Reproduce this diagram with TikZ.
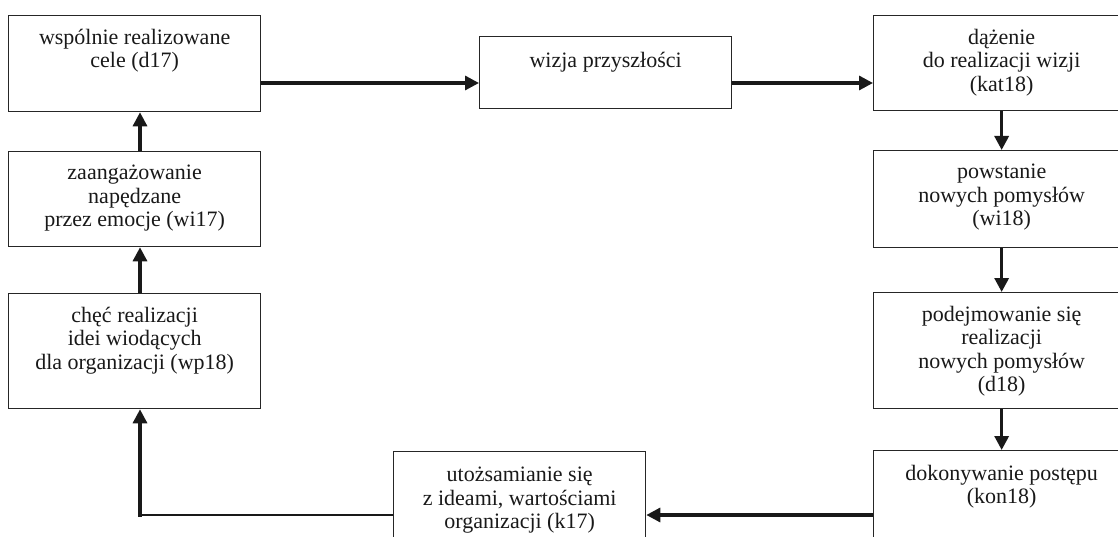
\documentclass[tikz,border=0pt]{standalone}
\usepackage{fontspec}
\setmainfont{Liberation Serif}
\usetikzlibrary{arrows.meta}
\begin{document}
\begin{tikzpicture}[x=1pt,y=-1pt,
  box/.style={draw=black!85, line width=1.3pt, anchor=north west, inner sep=0pt},
  lbox/.style={box, minimum width=252pt},
  rbox/.style={box, minimum width=256pt},
  txt/.style={align=center, anchor=north, inner sep=0pt, text=black!90,
    font=\fontsize{22}{23.5}\selectfont, execute at begin node=\strut},
  link/.style={line width=3.2pt, draw=black!90, line join=miter},
  flow/.style={link, -{Triangle[length=14pt,width=14pt]}},
]
\clip (0,0) rectangle (1118,537);
\fill[white] (0,0) rectangle (1118,537);

% boxes
\node[lbox, minimum height=96pt]  (d17)   at (8,15)    {};
\node[box, minimum width=252pt, minimum height=72pt] (wizja) at (479,36) {};
\node[rbox, minimum height=95pt]  (kat18) at (873,15)  {};
\node[rbox, minimum height=97pt]  (wi18)  at (873,150) {};
\node[rbox, minimum height=116pt] (d18)   at (873,292) {};
\node[rbox, minimum height=110pt] (kon18) at (873,450) {};
\node[lbox, minimum height=110pt] (k17)   at (393,451) {};
\node[lbox, minimum height=115pt] (wp18)  at (8,293)   {};
\node[lbox, minimum height=95pt]  (wi17)  at (8,151)   {};

% texts, set from the top of each box
\node[txt] (d17t)   at ([yshift=-14pt]d17.north)   {wspólnie realizowane\\cele (d17)};
\node[txt] (wizjat) at ([yshift=-15pt]wizja.north) {wizja przyszłości};
\node[txt] (kat18t) at ([yshift=-14pt]kat18.north) {dążenie\\do realizacji wizji\\(kat18)};
\node[txt] (wi18t)  at ([yshift=-14pt]wi18.north)  {powstanie\\nowych pomysłów\\(wi18)};
\node[txt] (d18t)   at ([yshift=-14pt]d18.north)   {podejmowanie się\\realizacji\\nowych pomysłów\\(d18)};
\node[txt] (kon18t) at ([yshift=-15pt]kon18.north) {dokonywanie postępu\\(kon18)};
\node[txt] (k17t)   at ([yshift=-16pt]k17.north)   {utożsamianie się\\z ideami, wartościami\\organizacji (k17)};
\node[txt] (wp18t)  at ([yshift=-14pt]wp18.north)  {chęć realizacji\\idei wiodących\\dla organizacji (wp18)};
\node[txt] (wi17t)  at ([yshift=-14pt]wi17.north)  {zaangażowanie\\napędzane\\przez emocje (wi17)};

% routing guides
\coordinate (rowT) at (0,83);
\coordinate (rowB) at (0,515);
\coordinate (colL) at (140,0);
\coordinate (bend) at (140,515);

% connectors
\draw[flow] (d17.east |- rowT) -- (wizja.west |- rowT);
\draw[flow] (wizja.east |- rowT) -- (kat18.west |- rowT);
\draw[flow] (kat18.south) -- (wi18.north);
\draw[flow] (wi18.south) -- (d18.north);
\draw[flow] (d18.south) -- (kon18.north);
\draw[flow] (kon18.west |- rowB) -- (k17.east |- rowB);
\draw[link, line width=2pt] (k17.west |- rowB) -- ([xshift=-1.6pt]bend);
\draw[flow, line cap=rect] (bend) -- (wp18.south -| colL);
\draw[flow] (wp18.north -| colL) -- (wi17.south -| colL);
\draw[flow] (wi17.north -| colL) -- (d17.south -| colL);
\end{tikzpicture}
\end{document}
